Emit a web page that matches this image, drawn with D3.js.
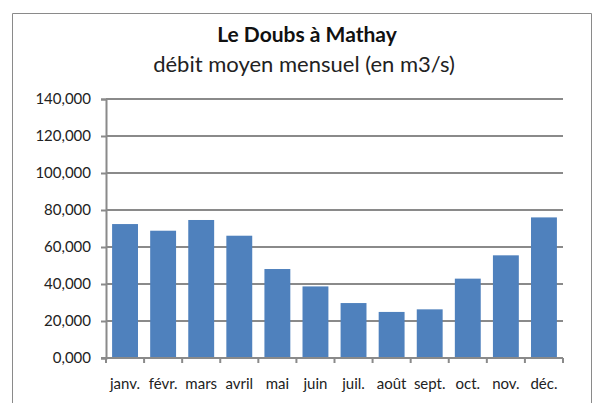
<!DOCTYPE html>
<html>
<head>
<meta charset="utf-8">
<script src="https://cdn.jsdelivr.net/npm/d3@7"></script>
<style>
  body { margin: 0; background: white; }
  svg { display: block; font-family: Lato, "Open Sans", sans-serif; }
</style>
</head>
<body>
<div id="vis"></div>
<script>
// monthly mean discharge
let months = ['janv.', 'févr.', 'mars', 'avril', 'mai', 'juin', 'juil.', 'août', 'sept.', 'oct.', 'nov.', 'déc.'];
let debit = [72.4, 68.8, 74.6, 66.1, 48.1, 38.7, 29.7, 24.9, 26.3, 42.9, 55.5, 76.0];
let yTicks = [0, 20, 40, 60, 80, 100, 120, 140];

let W = 594, H = 403;
let margin = { top: 99, left: 106, right: 31, bottom: 45 };
let grey = '#8a8a8a';

let svg = d3.select('#vis')
  .append('svg')
  .attr('width', W)
  .attr('height', H);

// chart frame (bottom edge is cut off)
svg.append('path')
  .attr('d', 'M12.5,' + H + 'V13.5H591.5V' + H)
  .attr('fill', 'none')
  .attr('stroke', grey)
  .attr('stroke-width', 1);

// titles
svg.append('text')
  .attr('x', 307).attr('y', 42)
  .attr('text-anchor', 'middle')
  .attr('font-size', 21)
  .attr('font-weight', 'bold')
  .attr('fill', '#111')
  .text('Le Doubs à Mathay');

svg.append('text')
  .attr('x', 304).attr('y', 72)
  .attr('text-anchor', 'middle')
  .attr('font-size', 22)
  .attr('fill', '#222')
  .text('débit moyen mensuel (en m3/s)');

let x = d3.scaleBand()
  .domain(months)
  .range([margin.left, W - margin.right])
  .paddingInner(0.32)
  .paddingOuter(0.16);

let y = d3.scaleLinear()
  .domain([0, 140])
  .range([H - margin.bottom, margin.top]);

// gridlines
svg.append('g')
  .selectAll('line')
  .data(yTicks)
  .join('line')
  .attr('x1', margin.left)
  .attr('x2', W - margin.right)
  .attr('y1', d => Math.round(y(d)))
  .attr('y2', d => Math.round(y(d)))
  .attr('stroke', grey)
  .attr('stroke-width', 2);

// bars
svg.append('g')
  .selectAll('rect')
  .data(debit)
  .join('rect')
  .attr('x', (d, i) => x(months[i]))
  .attr('width', x.bandwidth())
  .attr('y', d => y(d))
  .attr('height', d => y(0) - y(d))
  .attr('fill', '#4f81bd');

// y axis
let yAxis = svg.append('g')
  .attr('transform', 'translate(' + margin.left + ',0)')
  .call(d3.axisLeft(y)
    .tickValues(yTicks)
    .tickSize(5)
    .tickPadding(10)
    .tickFormat(d => d + ',000'));

yAxis.select('.domain').attr('stroke', grey).attr('stroke-width', 2);
yAxis.selectAll('.tick line').attr('stroke', grey).attr('stroke-width', 2);
yAxis.selectAll('text')
  .attr('font-size', 15)
  .attr('fill', '#222')
  .attr('font-family', 'Lato, sans-serif');

// x axis, ticks sit between the bars
let xAxis = svg.append('g')
  .attr('transform', 'translate(0,' + Math.round(y(0)) + ')');

xAxis.append('line')
  .attr('x1', margin.left - 5)
  .attr('x2', W - margin.right)
  .attr('stroke', grey)
  .attr('stroke-width', 2);

let step = (W - margin.right - margin.left) / months.length;
xAxis.selectAll('.xt')
  .data(d3.range(months.length + 1))
  .join('line')
  .attr('class', 'xt')
  .attr('x1', i => margin.left + i * step)
  .attr('x2', i => margin.left + i * step)
  .attr('y1', 0)
  .attr('y2', 5)
  .attr('stroke', grey)
  .attr('stroke-width', 2);

xAxis.selectAll('text')
  .data(months)
  .join('text')
  .attr('x', d => x(d) + x.bandwidth() / 2)
  .attr('y', 31)
  .attr('text-anchor', 'middle')
  .attr('font-size', 15)
  .attr('fill', '#222')
  .text(d => d);
</script>
</body>
</html>
